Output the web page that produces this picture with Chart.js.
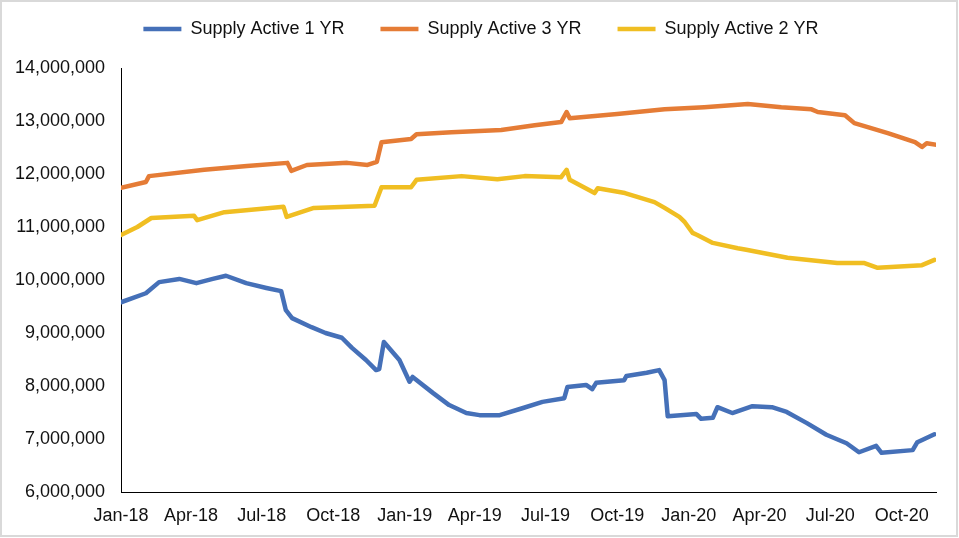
<!DOCTYPE html>
<html lang="en">
<head>
    <meta charset="UTF-8">
    <title>Supply Active</title>
    <script src="https://cdn.jsdelivr.net/npm/chart.js"></script>
    <style>
        body {
            margin: 0;
            background: #ffffff;
        }
        #chart {
            display: block;
        }
    </style>
</head>
<body>
    <canvas id="chart" width="959" height="538"></canvas>
    <script>
        // x values are days counted from 1 Jan 2018
        const tickDays = [0, 90, 181, 273, 365, 455, 546, 638, 730, 821, 912, 1004];
        const tickLabels = ["Jan-18", "Apr-18", "Jul-18", "Oct-18", "Jan-19", "Apr-19",
                            "Jul-19", "Oct-19", "Jan-20", "Apr-20", "Jul-20", "Oct-20"];

        const oneYrDays = [0, 32, 49, 75, 97, 118, 135, 161, 187, 206, 212, 220, 245, 263, 284, 297, 315, 328, 332,
                           338, 358, 371, 375, 401, 422, 444, 461, 487, 516, 542, 570, 574, 598, 606, 611, 647, 650,
                           676, 692, 699, 703, 740, 746, 761, 767, 786, 812, 837, 856, 882, 907, 933, 949, 971, 978,
                           1018, 1024, 1046];
        const oneYrVals = [9.58, 9.75, 9.96, 10.02, 9.94, 10.02, 10.08, 9.94, 9.85, 9.79, 9.43, 9.28, 9.11, 9.00, 8.91,
                           8.72, 8.49, 8.30, 8.32, 8.83, 8.49, 8.08, 8.17, 7.87, 7.64, 7.49, 7.45, 7.45, 7.58, 7.70,
                           7.77, 7.98, 8.02, 7.94, 8.06, 8.11, 8.19, 8.25, 8.30, 8.11, 7.43, 7.47, 7.38, 7.40, 7.60,
                           7.49, 7.62, 7.60, 7.51, 7.30, 7.08, 6.92, 6.75, 6.87, 6.74, 6.79, 6.94, 7.09];

        const threeYrDays = [0, 32, 36, 107, 162, 214, 219, 239, 291, 317, 329, 335, 373, 380, 425, 489, 532, 566,
                             573, 577, 638, 699, 750, 806, 849, 888, 896, 931, 943, 986, 1021, 1030, 1036, 1049];
        const threeYrVals = [11.74, 11.85, 11.96, 12.08, 12.15, 12.21, 12.06, 12.17, 12.21, 12.17, 12.23, 12.60,
                             12.66, 12.75, 12.79, 12.83, 12.92, 12.98, 13.17, 13.05, 13.13, 13.22, 13.26, 13.32,
                             13.26, 13.22, 13.17, 13.11, 12.96, 12.77, 12.60, 12.51, 12.58, 12.55];

        const twoYrDays = [0, 21, 39, 94, 98, 133, 209, 213, 248, 326, 335, 373, 380, 438, 484, 519, 566, 573, 577,
                           609, 613, 648, 686, 699, 718, 725, 735, 741, 761, 793, 804, 857, 921, 956, 973, 1030, 1046];
        const twoYrVals = [10.85, 11.00, 11.17, 11.21, 11.13, 11.28, 11.38, 11.19, 11.36, 11.40, 11.75, 11.75,
                           11.89, 11.96, 11.90, 11.96, 11.94, 12.08, 11.89, 11.64, 11.73, 11.64, 11.47, 11.36,
                           11.19, 11.09, 10.89, 10.85, 10.70, 10.60, 10.57, 10.42, 10.32, 10.32, 10.23, 10.28, 10.38];

        function toPoints(days, vals) {
            return days.map((d, i) => ({ x: d, y: vals[i] * 1000000 }));
        }

        const frame = {
            id: 'frame',
            afterDraw(chart) {
                const ctx = chart.ctx;
                ctx.save();
                ctx.strokeStyle = '#d9d9d9';
                ctx.lineWidth = 2;
                ctx.strokeRect(1, 1, 956, 535);
                ctx.restore();
            }
        };

        // legend takes the band above the plot, items nudged to where the original has them
        const legendPlace = {
            id: 'legendPlace',
            beforeInit(chart) {
                const fit = chart.legend.fit;
                chart.legend.fit = function () {
                    fit.bind(chart.legend)();
                    this.height = 68;
                };
            },
            afterLayout(chart) {
                const lg = chart.legend;
                lg.top = -16;
                lg.left += 13;
                lg.right += 13;
            }
        };

        Chart.defaults.font.family = "'Liberation Sans', Arial, sans-serif";
        Chart.defaults.color = '#111';

        new Chart(document.getElementById('chart'), {
            type: 'line',
            data: {
                datasets: [
                    { label: 'Supply Active 1 YR', data: toPoints(oneYrDays, oneYrVals), borderColor: '#4570B8', backgroundColor: '#4570B8', borderWidth: 4.5 },
                    { label: 'Supply Active 3 YR', data: toPoints(threeYrDays, threeYrVals), borderColor: '#E57C36', backgroundColor: '#E57C36', borderWidth: 4.5 },
                    { label: 'Supply Active 2 YR', data: toPoints(twoYrDays, twoYrVals), borderColor: '#F0BE22', backgroundColor: '#F0BE22', borderWidth: 4.5 }
                ]
            },
            options: {
                responsive: false,
                animation: false,
                layout: { padding: { top: 0, right: 23, bottom: 0, left: 0 } },
                elements: {
                    point: { radius: 0 },
                    line: { tension: 0, borderJoinStyle: 'round', borderCapStyle: 'round' }
                },
                plugins: {
                    tooltip: { enabled: false },
                    legend: {
                        position: 'top',
                        labels: {
                            usePointStyle: true,
                            pointStyle: 'line',
                            pointStyleWidth: 38,
                            boxWidth: 38,
                            padding: 36,
                            font: { size: 18 }
                        }
                    }
                },
                scales: {
                    x: {
                        type: 'linear',
                        min: 0,
                        max: 1048,
                        grid: { display: false, drawTicks: false },
                        border: { display: true, color: '#000', width: 1 },
                        afterBuildTicks: s => { s.ticks = tickDays.map(v => ({ value: v })); },
                        afterFit: s => { s.height = 46; },
                        ticks: {
                            padding: 13,
                            maxRotation: 0,
                            autoSkip: false,
                            font: { size: 18 },
                            callback: v => tickLabels[tickDays.indexOf(v)]
                        }
                    },
                    y: {
                        min: 6000000,
                        max: 14000000,
                        grid: { display: false, drawTicks: false },
                        border: { display: true, color: '#000', width: 1 },
                        afterFit: s => { s.width = 121; },
                        ticks: {
                            stepSize: 1000000,
                            padding: 16,
                            font: { size: 18 },
                            callback: v => v.toLocaleString('en-US')
                        }
                    }
                }
            },
            plugins: [frame, legendPlace]
        });
    </script>
</body>
</html>
